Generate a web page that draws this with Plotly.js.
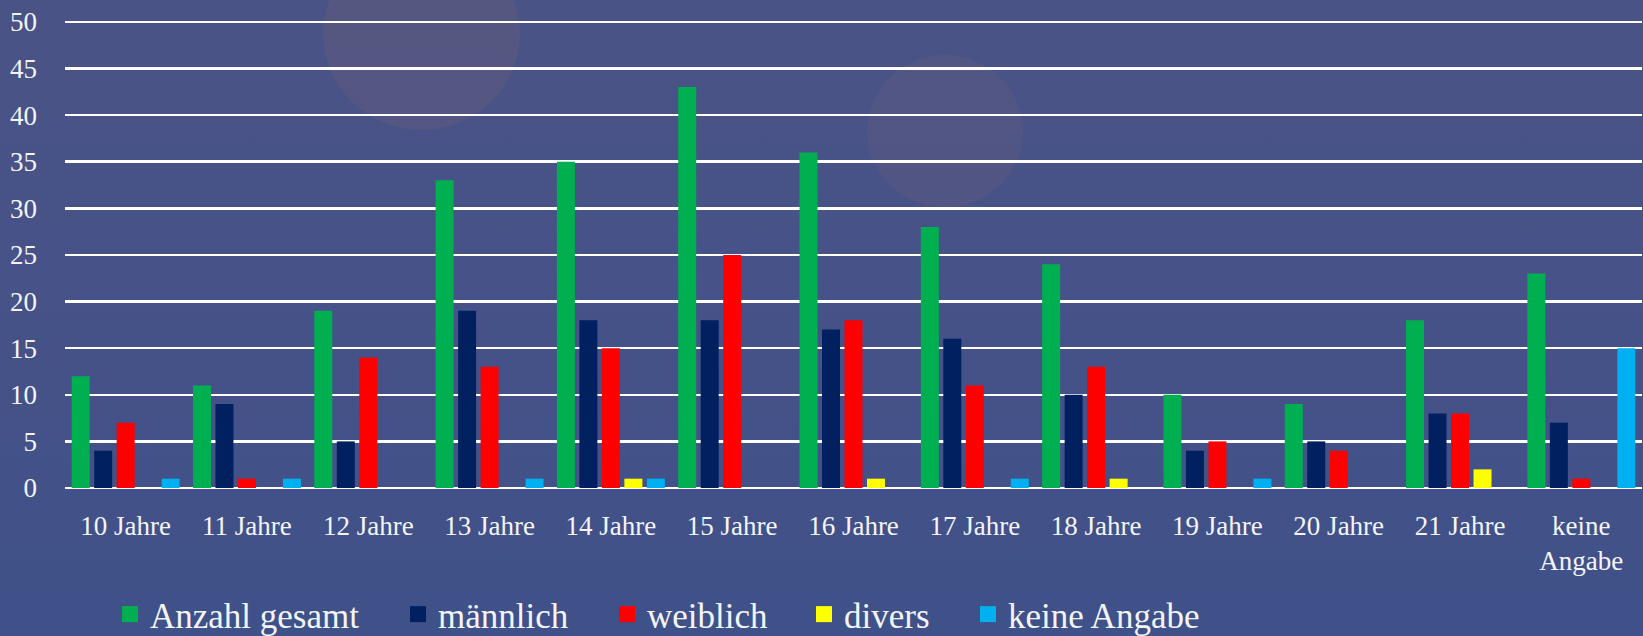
<!DOCTYPE html>
<html>
<head>
<meta charset="utf-8">
<script src="https://cdn.plot.ly/plotly-3.0.1.min.js"></script>
<style>
  html, body { margin: 0; padding: 0; }
  body {
    width: 1643px; height: 636px; overflow: hidden;
    background: linear-gradient(180deg, #4a5385 0%, #465288 45%, #3f5189 100%);
  }
  #chart { width: 1643px; height: 636px; }
</style>
</head>
<body>
<div id="chart"></div>
<script>
// categories (x axis)
const ages = ['10 Jahre', '11 Jahre', '12 Jahre', '13 Jahre', '14 Jahre', '15 Jahre', '16 Jahre',
    '17 Jahre', '18 Jahre', '19 Jahre', '20 Jahre', '21 Jahre', 'keine<br>Angabe'];

// series values
const gesamt   = [12, 11, 19, 33, 35, 43, 36, 28, 24, 10, 9, 18, 23];
const maennlich = [4, 9, 5, 19, 18, 18, 17, 16, 10, 4, 5, 8, 7];
const weiblich = [7, 1, 14, 13, 15, 25, 18, 11, 13, 5, 4, 8, 1];
const divers   = [0, 0, 0, 0, 1, 0, 1, 0, 1, 0, 0, 2, 0];
const keineAngabe = [1, 1, 0, 1, 1, 0, 0, 1, 0, 1, 0, 0, 15];

const seriesNames  = ['Anzahl gesamt', 'männlich', 'weiblich', 'divers', 'keine Angabe'];
const seriesColors = ['#00b050', '#002060', '#ff0000', '#ffff00', '#00b0f0'];
const seriesValues = [gesamt, maennlich, weiblich, divers, keineAngabe];

// left x (px) of each legend entry along the bottom
const legendX = [110, 398, 607, 804, 968];

const fontFamily = '"Liberation Serif", "DejaVu Serif", serif';
const textColor = '#f4f4f8';

const traces = [];

// the bars themselves
seriesValues.forEach((vals, i) => {
    traces.push({
        x: ages,
        y: vals,
        type: 'bar',
        name: seriesNames[i],
        marker: { color: seriesColors[i] },
        showlegend: false,
        hoverinfo: 'x+y+name'
    });
});

// legend entries with bigger square swatches, each one in its own legend box
seriesNames.forEach((name, i) => {
    traces.push({
        x: [null],
        y: [null],
        type: 'scatter',
        mode: 'markers',
        name: name,
        legend: i === 0 ? 'legend' : 'legend' + (i + 1),
        marker: { symbol: 'square', size: 16, color: seriesColors[i] },
        hoverinfo: 'skip'
    });
});

// faint bokeh circles in the background
const bokeh = [
    { x0: 323, x1: 520, y0: -62, y1: 130, alpha: 0.18 },
    { x0: 867, x1: 1023, y0: 55, y1: 207, alpha: 0.14 }
].map(c => ({
    type: 'circle',
    xref: 'paper', yref: 'paper',
    x0: (c.x0 - 65) / 1577, x1: (c.x1 - 65) / 1577,
    y0: (487.5 - c.y1) / 467.5, y1: (487.5 - c.y0) / 467.5,
    fillcolor: 'rgba(140, 104, 112, ' + c.alpha + ')',
    line: { width: 0 },
    layer: 'below'
}));

const layout = {
    width: 1643,
    height: 636,
    margin: { l: 65, r: 1, t: 20, b: 148 },
    paper_bgcolor: 'rgba(0,0,0,0)',
    plot_bgcolor: 'rgba(0,0,0,0)',
    font: { family: fontFamily, color: textColor, size: 26 },
    barmode: 'group',
    bargap: 0.073,
    bargroupgap: 0.2,
    xaxis: {
        type: 'category',
        showgrid: false,
        showline: false,
        zeroline: false,
        ticks: '',
        tickfont: { size: 27, family: fontFamily, color: textColor },
        ticklabelstandoff: 19,
        fixedrange: true
    },
    yaxis: {
        range: [0, 50.2],
        tick0: 0,
        dtick: 5,
        showgrid: true,
        gridcolor: '#ffffff',
        gridwidth: 2.5,
        zeroline: true,
        zerolinecolor: '#ffffff',
        zerolinewidth: 2.5,
        showline: false,
        ticks: '',
        tickfont: { size: 27, family: fontFamily, color: textColor },
        ticklabelstandoff: 27,
        fixedrange: true
    },
    shapes: bokeh,
    showlegend: true
};

// one legend box per series, placed where the reference has them
legendX.forEach((px, i) => {
    layout[i === 0 ? 'legend' : 'legend' + (i + 1)] = {
        orientation: 'h',
        xref: 'container',
        yref: 'container',
        x: px / 1643,
        xanchor: 'left',
        y: 0.034,
        yanchor: 'middle',
        font: { size: 35, family: fontFamily, color: textColor },
        bgcolor: 'rgba(0,0,0,0)',
        itemwidth: 30
    };
});

Plotly.newPlot('chart', traces, layout, { displayModeBar: false, staticPlot: true });
</script>
</body>
</html>
